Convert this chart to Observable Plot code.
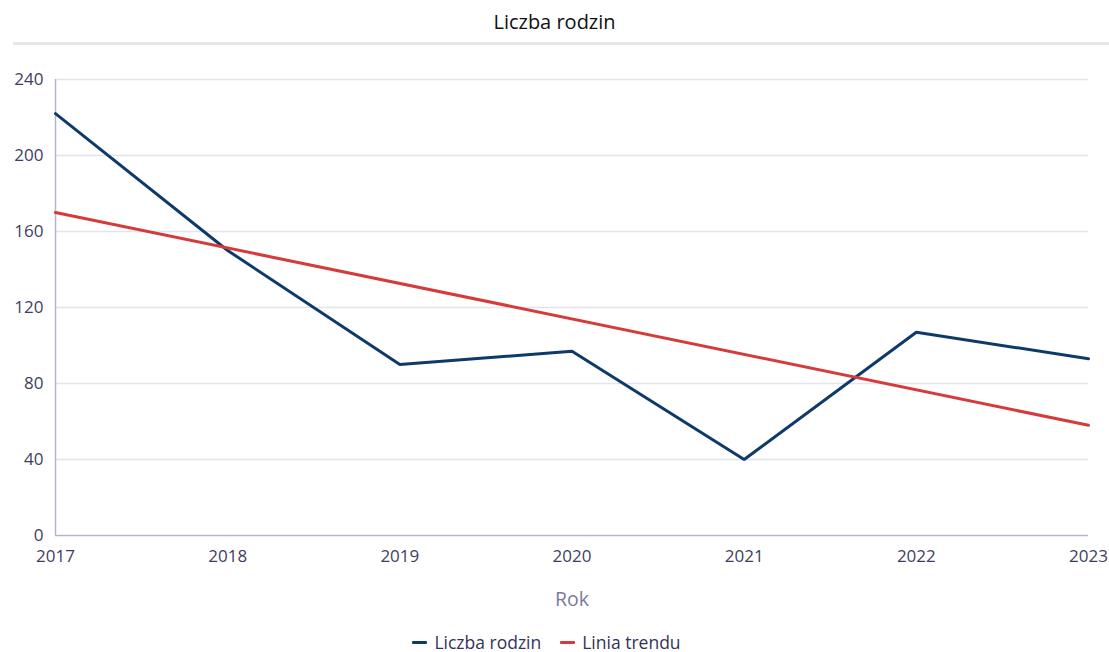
<!DOCTYPE html>
<html>
<head>
<meta charset="utf-8">
<script src="https://cdn.jsdelivr.net/npm/d3@7"></script>
<script src="https://cdn.jsdelivr.net/npm/@observablehq/plot@0.6"></script>
<style>
  html, body { margin: 0; padding: 0; background: #fff; }
  body { width: 1109px; height: 652px; overflow: hidden; font-family: "Open Sans", "Noto Sans", sans-serif; }
  #title { height: 42px; line-height: 44px; text-align: center; font-size: 20px; color: #111; }
  #sep { margin-left: 13px; width: 1096px; height: 3px; background: #e6e6ec; }
  #chart svg { display: block; }
  #legend { display: flex; justify-content: center; align-items: center; gap: 19px; font-size: 17.5px; color: #333355; margin-top: 5px; padding-right: 16px; }
  .item { display: flex; align-items: center; gap: 7px; }
  .sw { width: 15px; height: 3px; border-radius: 1px; }
</style>
</head>
<body>
<div id="title">Liczba rodzin</div>
<div id="sep"></div>
<div id="chart"></div>
<div id="legend"></div>
<script>
const years = [2017, 2018, 2019, 2020, 2021, 2022, 2023];
const families = [222, 150, 90, 97, 40, 107, 93];
const trendYears = [2017, 2023];
const trendValues = [170, 58];
const yTicks = [0, 40, 80, 120, 160, 200, 240];
const seriesNames = ["Liczba rodzin", "Linia trendu"];
const seriesColors = ["#0e3a6b", "#d63b3b"];

const familyData = years.map((y, i) => ({year: y, value: families[i]}));
const trendData = trendYears.map((y, i) => ({year: y, value: trendValues[i]}));

const chart = Plot.plot({
  width: 1109,
  height: 580,
  marginTop: 34,
  marginBottom: 90,
  marginLeft: 55,
  marginRight: 21,
  style: {fontFamily: "'Open Sans', 'Noto Sans', sans-serif", fontSize: "17px", color: "#3e3e5c", background: "#fff"},
  x: {domain: [2017, 2023], ticks: years, tickFormat: d => String(d)},
  y: {domain: [0, 240], ticks: yTicks},
  marks: [
    Plot.gridY(yTicks.filter(t => t > 0), {stroke: "#e4e4ee", strokeOpacity: 1, strokeWidth: 1.5}),
    Plot.axisY({ticks: yTicks, tickSize: 0, tickPadding: 12, label: null, fontSize: 17}),
    Plot.axisX({ticks: years, tickSize: 0, tickPadding: 14, tickFormat: d => String(d), label: null, fontSize: 17}),
    Plot.ruleX([2017], {stroke: "#b4b4cc", strokeWidth: 1.5}),
    Plot.ruleY([0], {stroke: "#b4b4cc", strokeWidth: 1.5}),
    Plot.line(familyData, {x: "year", y: "value", stroke: seriesColors[0], strokeWidth: 3, strokeLinejoin: "miter"}),
    Plot.line(trendData, {x: "year", y: "value", stroke: seriesColors[1], strokeWidth: 3}),
    Plot.text(["Rok"], {frameAnchor: "bottom", dy: 70, fill: "#7a7a9c", fontSize: 19.5})
  ]
});
document.getElementById("chart").appendChild(chart);

const legend = document.getElementById("legend");
seriesNames.forEach((n, i) => {
  const it = document.createElement("div");
  it.className = "item";
  const sw = document.createElement("div");
  sw.className = "sw";
  sw.style.background = seriesColors[i];
  const tx = document.createElement("span");
  tx.textContent = n;
  it.appendChild(sw);
  it.appendChild(tx);
  legend.appendChild(it);
});
</script>
</body>
</html>
